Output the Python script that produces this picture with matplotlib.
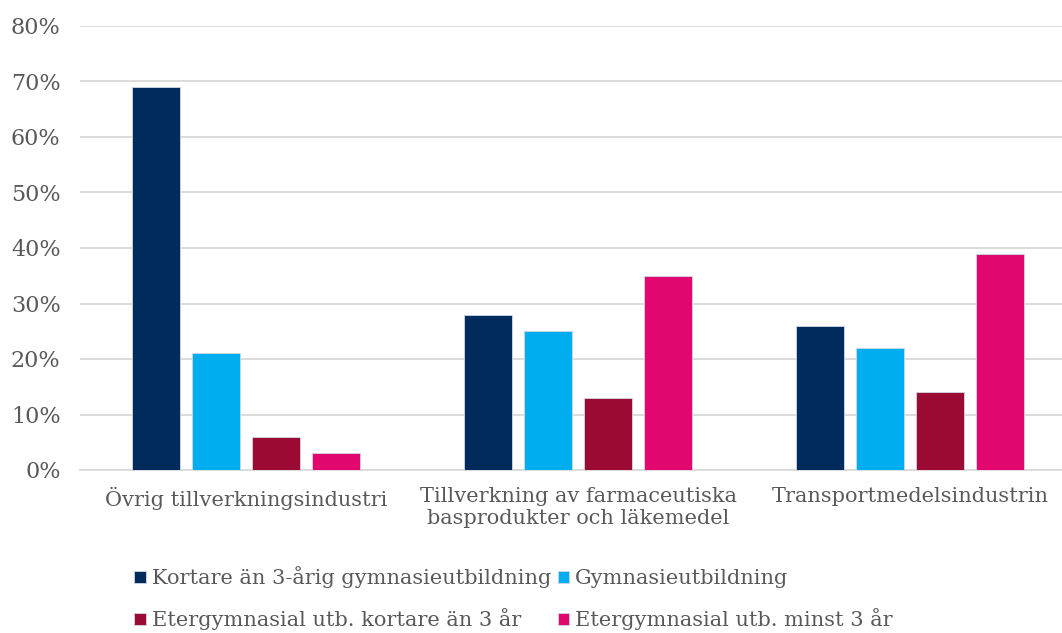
import matplotlib
matplotlib.use("Agg")
import matplotlib.pyplot as plt
import numpy as np
from matplotlib.ticker import FuncFormatter

categories = ["Övrig tillverkningsindustri",
              "Tillverkning av farmaceutiska\nbasprodukter och läkemedel",
              "Transportmedelsindustrin"]
series_names = ["Kortare än 3-årig gymnasieutbildning",
                "Gymnasieutbildning",
                "Etergymnasial utb. kortare än 3 år",
                "Etergymnasial utb. minst 3 år"]
values = [
    [69, 28, 26],
    [21, 25, 22],
    [6, 13, 14],
    [3, 35, 39],
]
colors = ["#002B5C", "#00ADEE", "#9B0A32", "#E2066F"]
yticks = [0, 10, 20, 30, 40, 50, 60, 70, 80]

plt.rcParams['font.family'] = ['DejaVu Serif']
W, H = 1062, 633
fig = plt.figure(figsize=(W/100, H/100), dpi=100)
ax = fig.add_axes([80/W, 1-470/H, 996/W, (470-26)/H])

x = np.arange(len(categories))
bw = 0.1446
step = 0.1807
handles = []
for i, (vals, c) in enumerate(zip(values, colors)):
    off = (i - 1.5) * step
    b = ax.bar(x + off, vals, width=bw, color=c, edgecolor="#D0D8E4", linewidth=0.6,
               label=series_names[i], zorder=3)
    handles.append(b)

ax.set_xlim(-0.5, 2.5)
ax.set_ylim(0, 80)
ax.set_yticks(yticks)
ax.yaxis.set_major_formatter(FuncFormatter(lambda v, p: f"{int(v)}%"))
ax.grid(axis="y", color="#D9D9D9", linewidth=1.3, zorder=0)
ax.set_axisbelow(True)
for s in ax.spines.values():
    s.set_visible(False)
ax.spines['bottom'].set_visible(True)
ax.spines['bottom'].set_color("#D9D9D9")
ax.spines['bottom'].set_linewidth(1.3)
ax.tick_params(axis="both", length=0, labelsize=15, labelcolor="#595959")
ax.tick_params(axis="y", labelsize=16, pad=14)
ax.tick_params(axis="x", pad=12)
ax.set_xticks(x)
ax.set_xticklabels(categories, linespacing=1.2)

order = [0, 2, 1, 3]
leg = fig.legend(handles=[handles[i] for i in order],
                 labels=[series_names[i] for i in order], ncol=2,
                 loc="upper left", bbox_to_anchor=(124/W, 1-556/H),
                 frameon=False, fontsize=15, labelcolor="#595959",
                 handlelength=0.55, handleheight=0.55, handletextpad=0.3,
                 columnspacing=0.3, labelspacing=0.95, borderpad=0)

fig.savefig("out.png", dpi=100)
